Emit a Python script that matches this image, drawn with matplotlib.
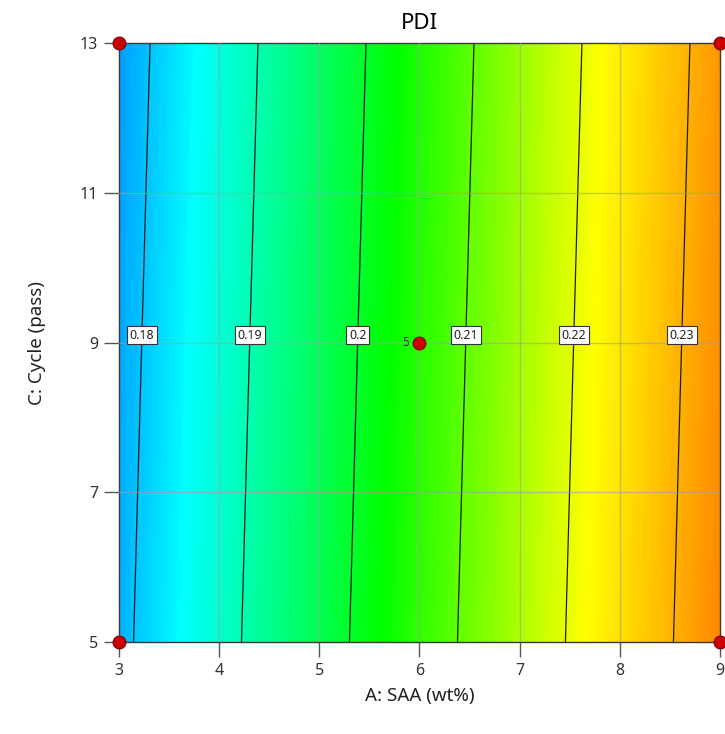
import numpy as np
import matplotlib
matplotlib.use("Agg")
import matplotlib.pyplot as plt
from matplotlib.colors import LinearSegmentedColormap

plt.rcParams['font.family'] = ['Noto Sans', 'DejaVu Sans']

# factor levels and PDI
saa = [3, 4, 5, 6, 7, 8, 9]          # A: SAA (wt%)
cycle = [5, 9, 13]                   # C: Cycle (pass)
pdi = [
    [0.17865, 0.18793, 0.19721, 0.20648, 0.21576, 0.22504, 0.23431],  # C = 5
    [0.17789, 0.18717, 0.19645, 0.20572, 0.21500, 0.22428, 0.23355],  # C = 9
    [0.17712, 0.18640, 0.19568, 0.20495, 0.21423, 0.22351, 0.23278],  # C = 13
]
levels = [0.18, 0.19, 0.20, 0.21, 0.22, 0.23]

# design points
pts_a = [3, 3, 9, 9, 6]
pts_c = [5, 13, 5, 13, 9]
center_count = "5"

A, C = np.meshgrid(saa, cycle)
Z = np.array(pdi)

# colour scale anchored on the values where the colours sit in the picture
vmin, vmax = 0.1656, 0.2485
anchors = [0.1656, 0.1843, 0.2030, 0.2220, 0.2485]
cols = ['#0000ff', '#00ffff', '#00ff00', '#ffff00', '#ff0000']
cmap = LinearSegmentedColormap.from_list(
    'de', [((v - vmin) / (vmax - vmin), c) for v, c in zip(anchors, cols)])

fig = plt.figure(figsize=(7.25, 7.34), dpi=100)
ax = fig.add_axes([0.1641, 0.1253, 0.829, 0.8161])

ax.contourf(A, C, Z, levels=np.linspace(Z.min(), Z.max(), 300),
            cmap=cmap, vmin=vmin, vmax=vmax)
cs = ax.contour(A, C, Z, levels=levels, colors='#1e1e1e', linewidths=0.9)

# grid over the fill
for xv in saa[1:-1]:
    ax.axvline(xv, color='#a0a0a0', lw=1, alpha=0.6, zorder=3)
for yv in [7, 9, 11]:
    ax.axhline(yv, color='#a0a0a0', lw=1, alpha=0.6, zorder=3)

# contour labels just above C = 9
row = Z[1]
for lv in levels:
    xl = np.interp(lv, row, saa)
    ax.text(xl, 9.1, f"{lv:g}", ha='center', va='center', fontsize=9,
            color='#222222', zorder=5,
            bbox=dict(boxstyle='square,pad=0.22', fc='white', ec='#333333', lw=0.8))

ax.scatter(pts_a, pts_c, s=85, color='#cc0000', edgecolors='#7a0000',
           linewidths=0.8, zorder=6, clip_on=False)
ax.text(pts_a[-1] - 0.1, pts_c[-1], center_count, ha='right', va='center',
        fontsize=8.5, color='#333333', zorder=6)

ax.set_xlim(3, 9)
ax.set_ylim(5, 13)
ax.set_xticks(saa)
ax.set_yticks([5, 7, 9, 11, 13])
ax.tick_params(axis='both', direction='out', length=11, width=1,
               color='#555555', labelsize=11.5, labelcolor='#333333', pad=4)
for sp in ax.spines.values():
    sp.set_color('#3a3a3a')
    sp.set_linewidth(1)

ax.set_title('PDI', fontsize=16, pad=10)
ax.set_xlabel('A: SAA (wt%)', fontsize=13.5, labelpad=6, color='#222222')
ax.set_ylabel('C: Cycle (pass)', fontsize=13.5, labelpad=24, color='#222222')

fig.savefig('out.png', dpi=100)
